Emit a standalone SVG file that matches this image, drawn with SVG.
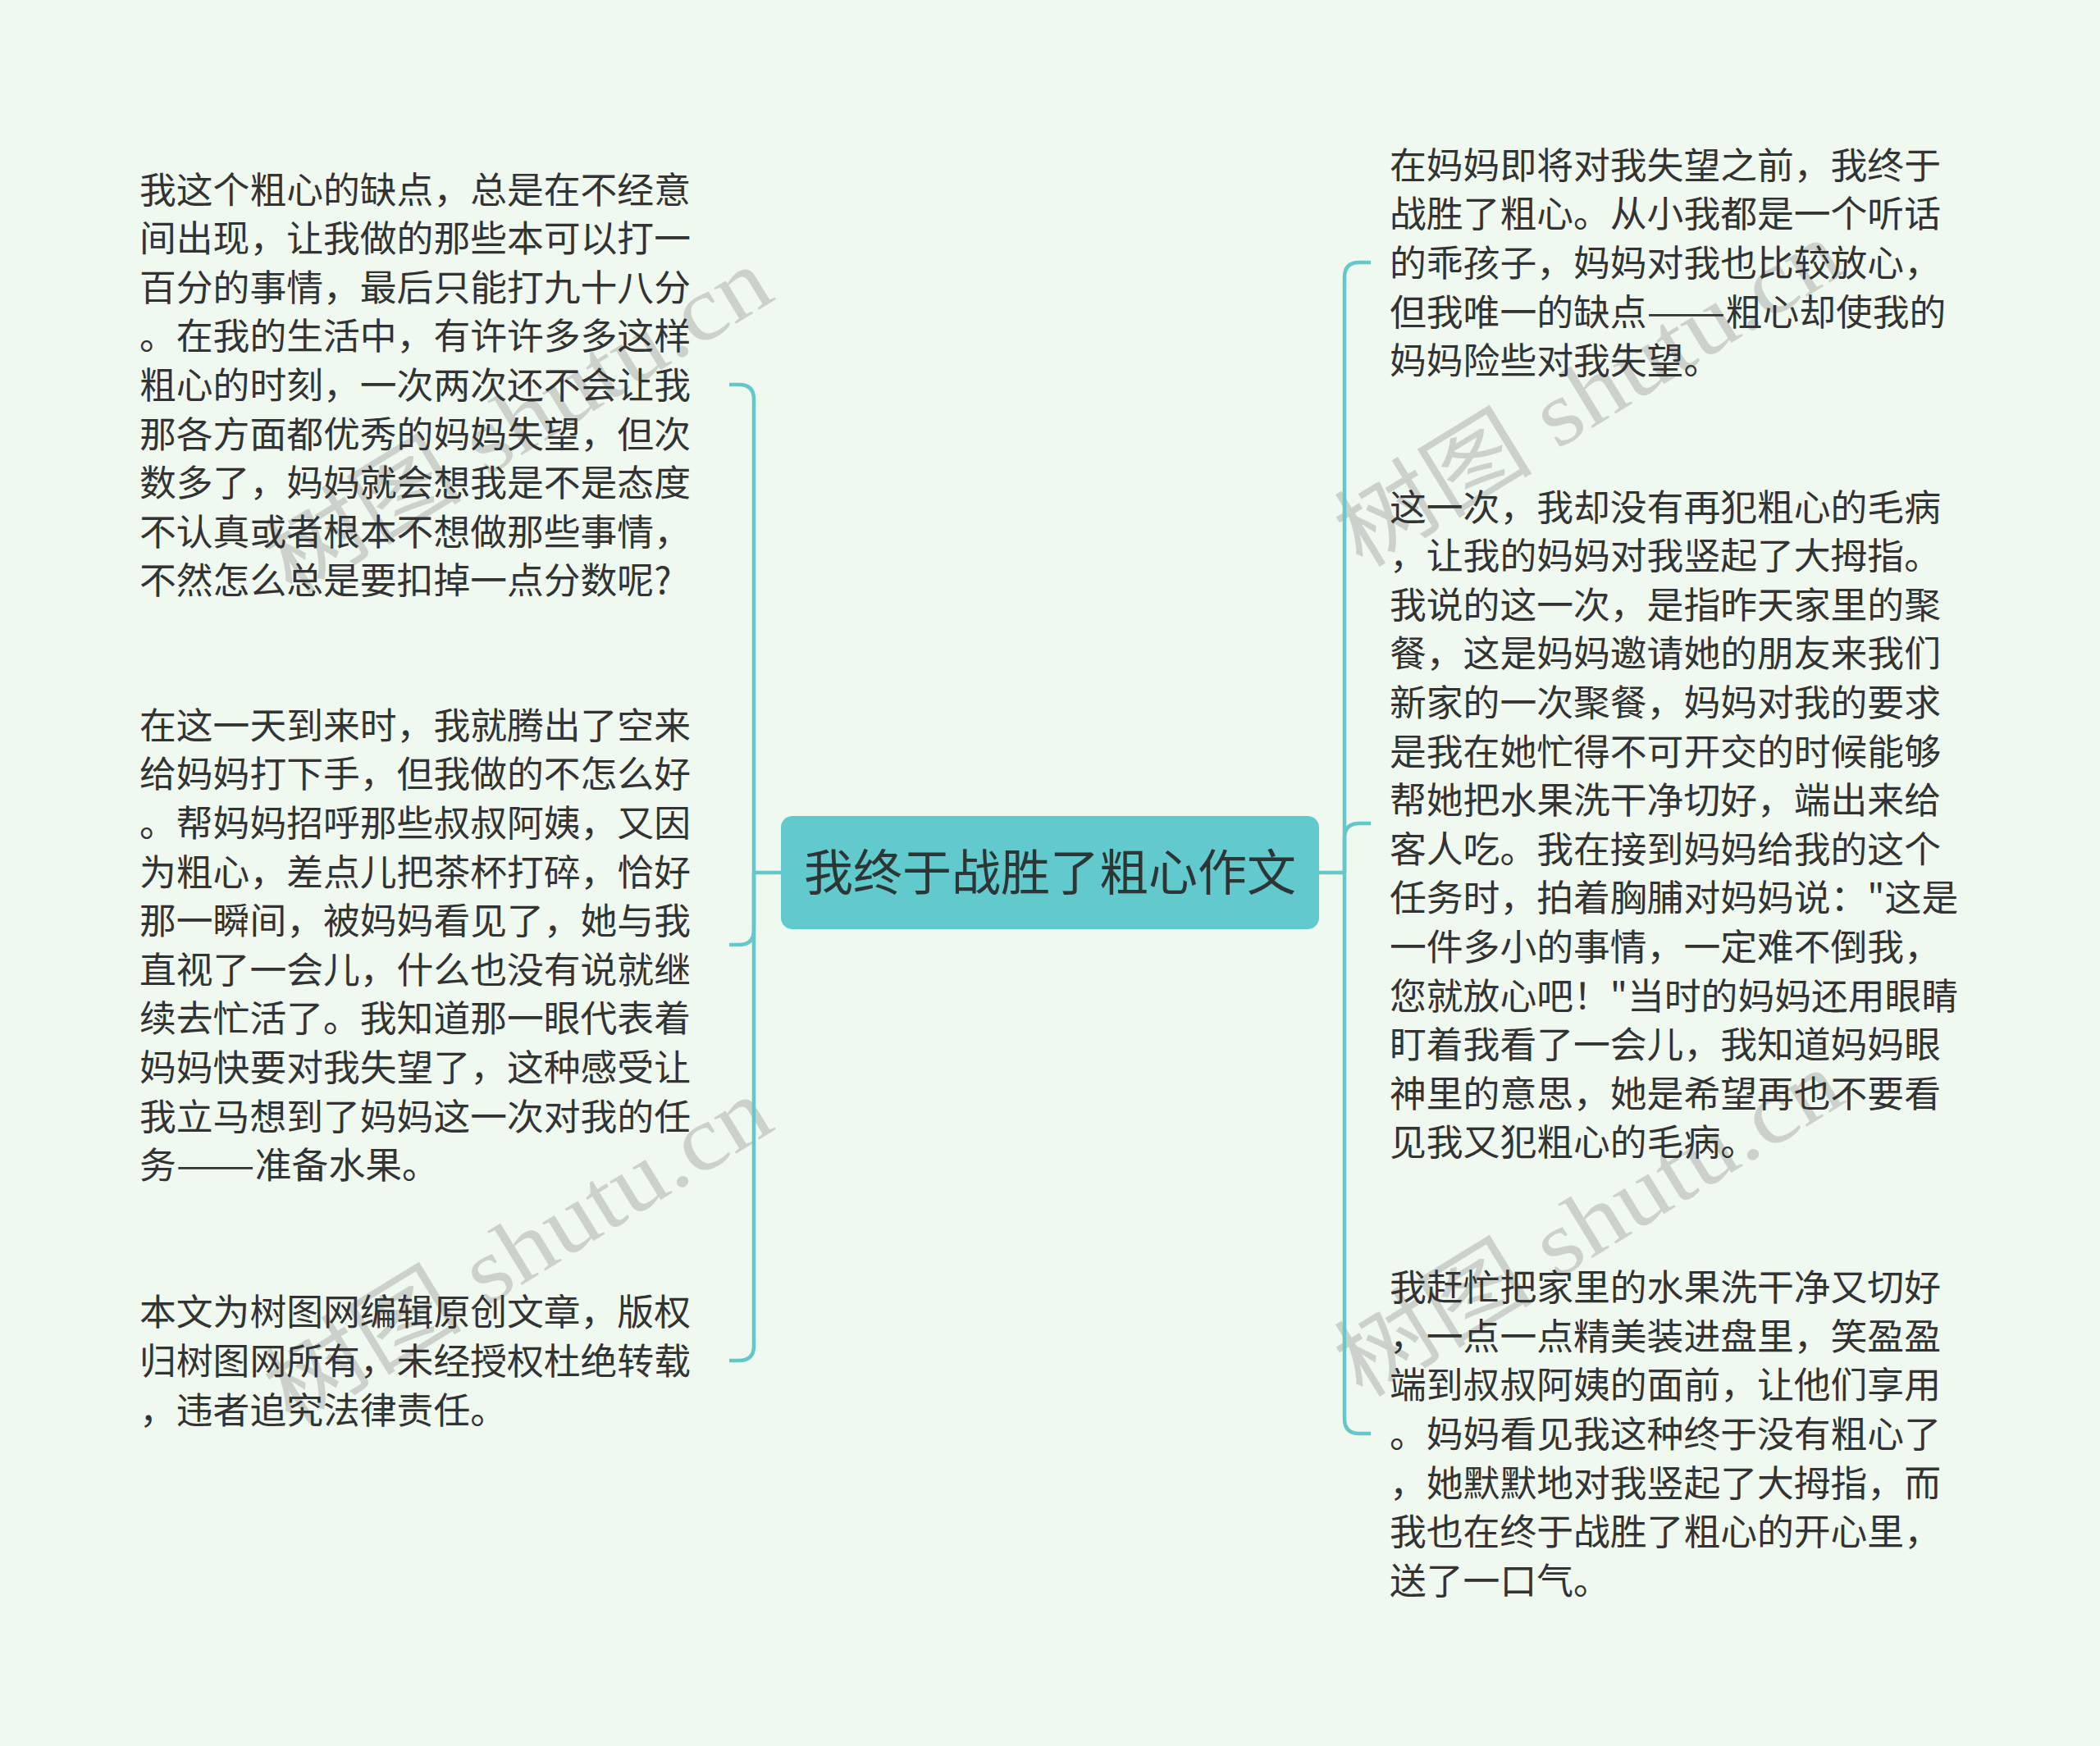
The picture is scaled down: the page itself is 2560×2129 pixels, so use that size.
<svg xmlns="http://www.w3.org/2000/svg" width="2560" height="2129" viewBox="0 0 2560 2129">
<style>
.bg{fill:#eff9ef}
.wm{font-family:"Liberation Serif","Noto Sans CJK SC",serif;font-size:112px;fill:#c6cac6;fill-opacity:0.85}
.t{font-family:"Noto Sans CJK SC","Noto Sans",sans-serif;font-size:44.8px;fill:#333333}
.root-r{fill:#62c9cc}
.root-t{font-family:"Noto Sans CJK SC","Noto Sans",sans-serif;font-size:60px;fill:#2d3535;text-anchor:middle}
.c{fill:none;stroke:#66c7ca;stroke-width:4.5;stroke-linecap:butt}
</style>
<rect class="bg" x="0" y="0" width="2560" height="2129"/>

<g id="watermarks">
<text class="wm" transform="translate(355,727) rotate(-31.5)" textLength="695" lengthAdjust="spacingAndGlyphs">树图 shutu.cn</text>
<text class="wm" transform="translate(355,1739) rotate(-31.5)" textLength="695" lengthAdjust="spacingAndGlyphs">树图 shutu.cn</text>
<text class="wm" transform="translate(1660,694) rotate(-31.5)" textLength="695" lengthAdjust="spacingAndGlyphs">树图 shutu.cn</text>
<text class="wm" transform="translate(1660,1706) rotate(-31.5)" textLength="695" lengthAdjust="spacingAndGlyphs">树图 shutu.cn</text>
</g>

<g id="connectors">
<path class="c" d="M952,1064 H919"/>
<path class="c" d="M919,1064 V487 Q919,469 901,469 H889"/>
<path class="c" d="M919,1064 V1134 Q919,1152 901,1152 H889"/>
<path class="c" d="M919,1064 V1641 Q919,1659 901,1659 H889"/>
<path class="c" d="M1608,1064 H1639"/>
<path class="c" d="M1639,1064 V338 Q1639,320 1657,320 H1671"/>
<path class="c" d="M1639,1064 V1022 Q1639,1004 1657,1004 H1671"/>
<path class="c" d="M1639,1064 V1730 Q1639,1748 1657,1748 H1671"/>
</g>

<g id="root">
<rect class="root-r" x="952" y="995" width="656" height="138" rx="14"/>
<text class="root-t" x="1280" y="1086">我终于战胜了粗心作文</text>
</g>

<g id="node-left-1">
<text class="t" x="170" y="247.6">
<tspan x="170">我这个粗心的缺点，总是在不经意</tspan>
<tspan x="170" dy="59.6">间出现，让我做的那些本可以打一</tspan>
<tspan x="170" dy="59.6">百分的事情，最后只能打九十八分</tspan>
<tspan x="170" dy="59.6">。在我的生活中，有许许多多这样</tspan>
<tspan x="170" dy="59.6">粗心的时刻，一次两次还不会让我</tspan>
<tspan x="170" dy="59.6">那各方面都优秀的妈妈失望，但次</tspan>
<tspan x="170" dy="59.6">数多了，妈妈就会想我是不是态度</tspan>
<tspan x="170" dy="59.6">不认真或者根本不想做那些事情，</tspan>
<tspan x="170" dy="59.6">不然怎么总是要扣掉一点分数呢?</tspan>
</text>
</g>

<g id="node-left-2">
<text class="t" x="170" y="900.8">
<tspan x="170">在这一天到来时，我就腾出了空来</tspan>
<tspan x="170" dy="59.6">给妈妈打下手，但我做的不怎么好</tspan>
<tspan x="170" dy="59.6">。帮妈妈招呼那些叔叔阿姨，又因</tspan>
<tspan x="170" dy="59.6">为粗心，差点儿把茶杯打碎，恰好</tspan>
<tspan x="170" dy="59.6">那一瞬间，被妈妈看见了，她与我</tspan>
<tspan x="170" dy="59.6">直视了一会儿，什么也没有说就继</tspan>
<tspan x="170" dy="59.6">续去忙活了。我知道那一眼代表着</tspan>
<tspan x="170" dy="59.6">妈妈快要对我失望了，这种感受让</tspan>
<tspan x="170" dy="59.6">我立马想到了妈妈这一次对我的任</tspan>
<tspan x="170" dy="59.6">务<tspan textLength="96" lengthAdjust="spacingAndGlyphs">——</tspan>准备水果。</tspan>
</text>
</g>

<g id="node-left-3">
<text class="t" x="170" y="1616.4">
<tspan x="170">本文为树图网编辑原创文章，版权</tspan>
<tspan x="170" dy="59.6">归树图网所有，未经授权杜绝转载</tspan>
<tspan x="170" dy="59.6">，违者追究法律责任。</tspan>
</text>
</g>

<g id="node-right-1">
<text class="t" x="1694" y="217.8">
<tspan x="1694">在妈妈即将对我失望之前，我终于</tspan>
<tspan x="1694" dy="59.6">战胜了粗心。从小我都是一个听话</tspan>
<tspan x="1694" dy="59.6">的乖孩子，妈妈对我也比较放心，</tspan>
<tspan x="1694" dy="59.6">但我唯一的缺点<tspan textLength="96" lengthAdjust="spacingAndGlyphs">——</tspan>粗心却使我的</tspan>
<tspan x="1694" dy="59.6">妈妈险些对我失望。</tspan>
</text>
</g>

<g id="node-right-2">
<text class="t" x="1694" y="634.6">
<tspan x="1694">这一次，我却没有再犯粗心的毛病</tspan>
<tspan x="1694" dy="59.6">，让我的妈妈对我竖起了大拇指。</tspan>
<tspan x="1694" dy="59.6">我说的这一次，是指昨天家里的聚</tspan>
<tspan x="1694" dy="59.6">餐，这是妈妈邀请她的朋友来我们</tspan>
<tspan x="1694" dy="59.6">新家的一次聚餐，妈妈对我的要求</tspan>
<tspan x="1694" dy="59.6">是我在她忙得不可开交的时候能够</tspan>
<tspan x="1694" dy="59.6">帮她把水果洗干净切好，端出来给</tspan>
<tspan x="1694" dy="59.6">客人吃。我在接到妈妈给我的这个</tspan>
<tspan x="1694" dy="59.6">任务时，拍着胸脯对妈妈说："这是</tspan>
<tspan x="1694" dy="59.6">一件多小的事情，一定难不倒我，</tspan>
<tspan x="1694" dy="59.6">您就放心吧！"当时的妈妈还用眼睛</tspan>
<tspan x="1694" dy="59.6">盯着我看了一会儿，我知道妈妈眼</tspan>
<tspan x="1694" dy="59.6">神里的意思，她是希望再也不要看</tspan>
<tspan x="1694" dy="59.6">见我又犯粗心的毛病。</tspan>
</text>
</g>

<g id="node-right-3">
<text class="t" x="1694" y="1586.2">
<tspan x="1694">我赶忙把家里的水果洗干净又切好</tspan>
<tspan x="1694" dy="59.6">，一点一点精美装进盘里，笑盈盈</tspan>
<tspan x="1694" dy="59.6">端到叔叔阿姨的面前，让他们享用</tspan>
<tspan x="1694" dy="59.6">。妈妈看见我这种终于没有粗心了</tspan>
<tspan x="1694" dy="59.6">，她默默地对我竖起了大拇指，而</tspan>
<tspan x="1694" dy="59.6">我也在终于战胜了粗心的开心里，</tspan>
<tspan x="1694" dy="59.6">送了一口气。</tspan>
</text>
</g>
</svg>
